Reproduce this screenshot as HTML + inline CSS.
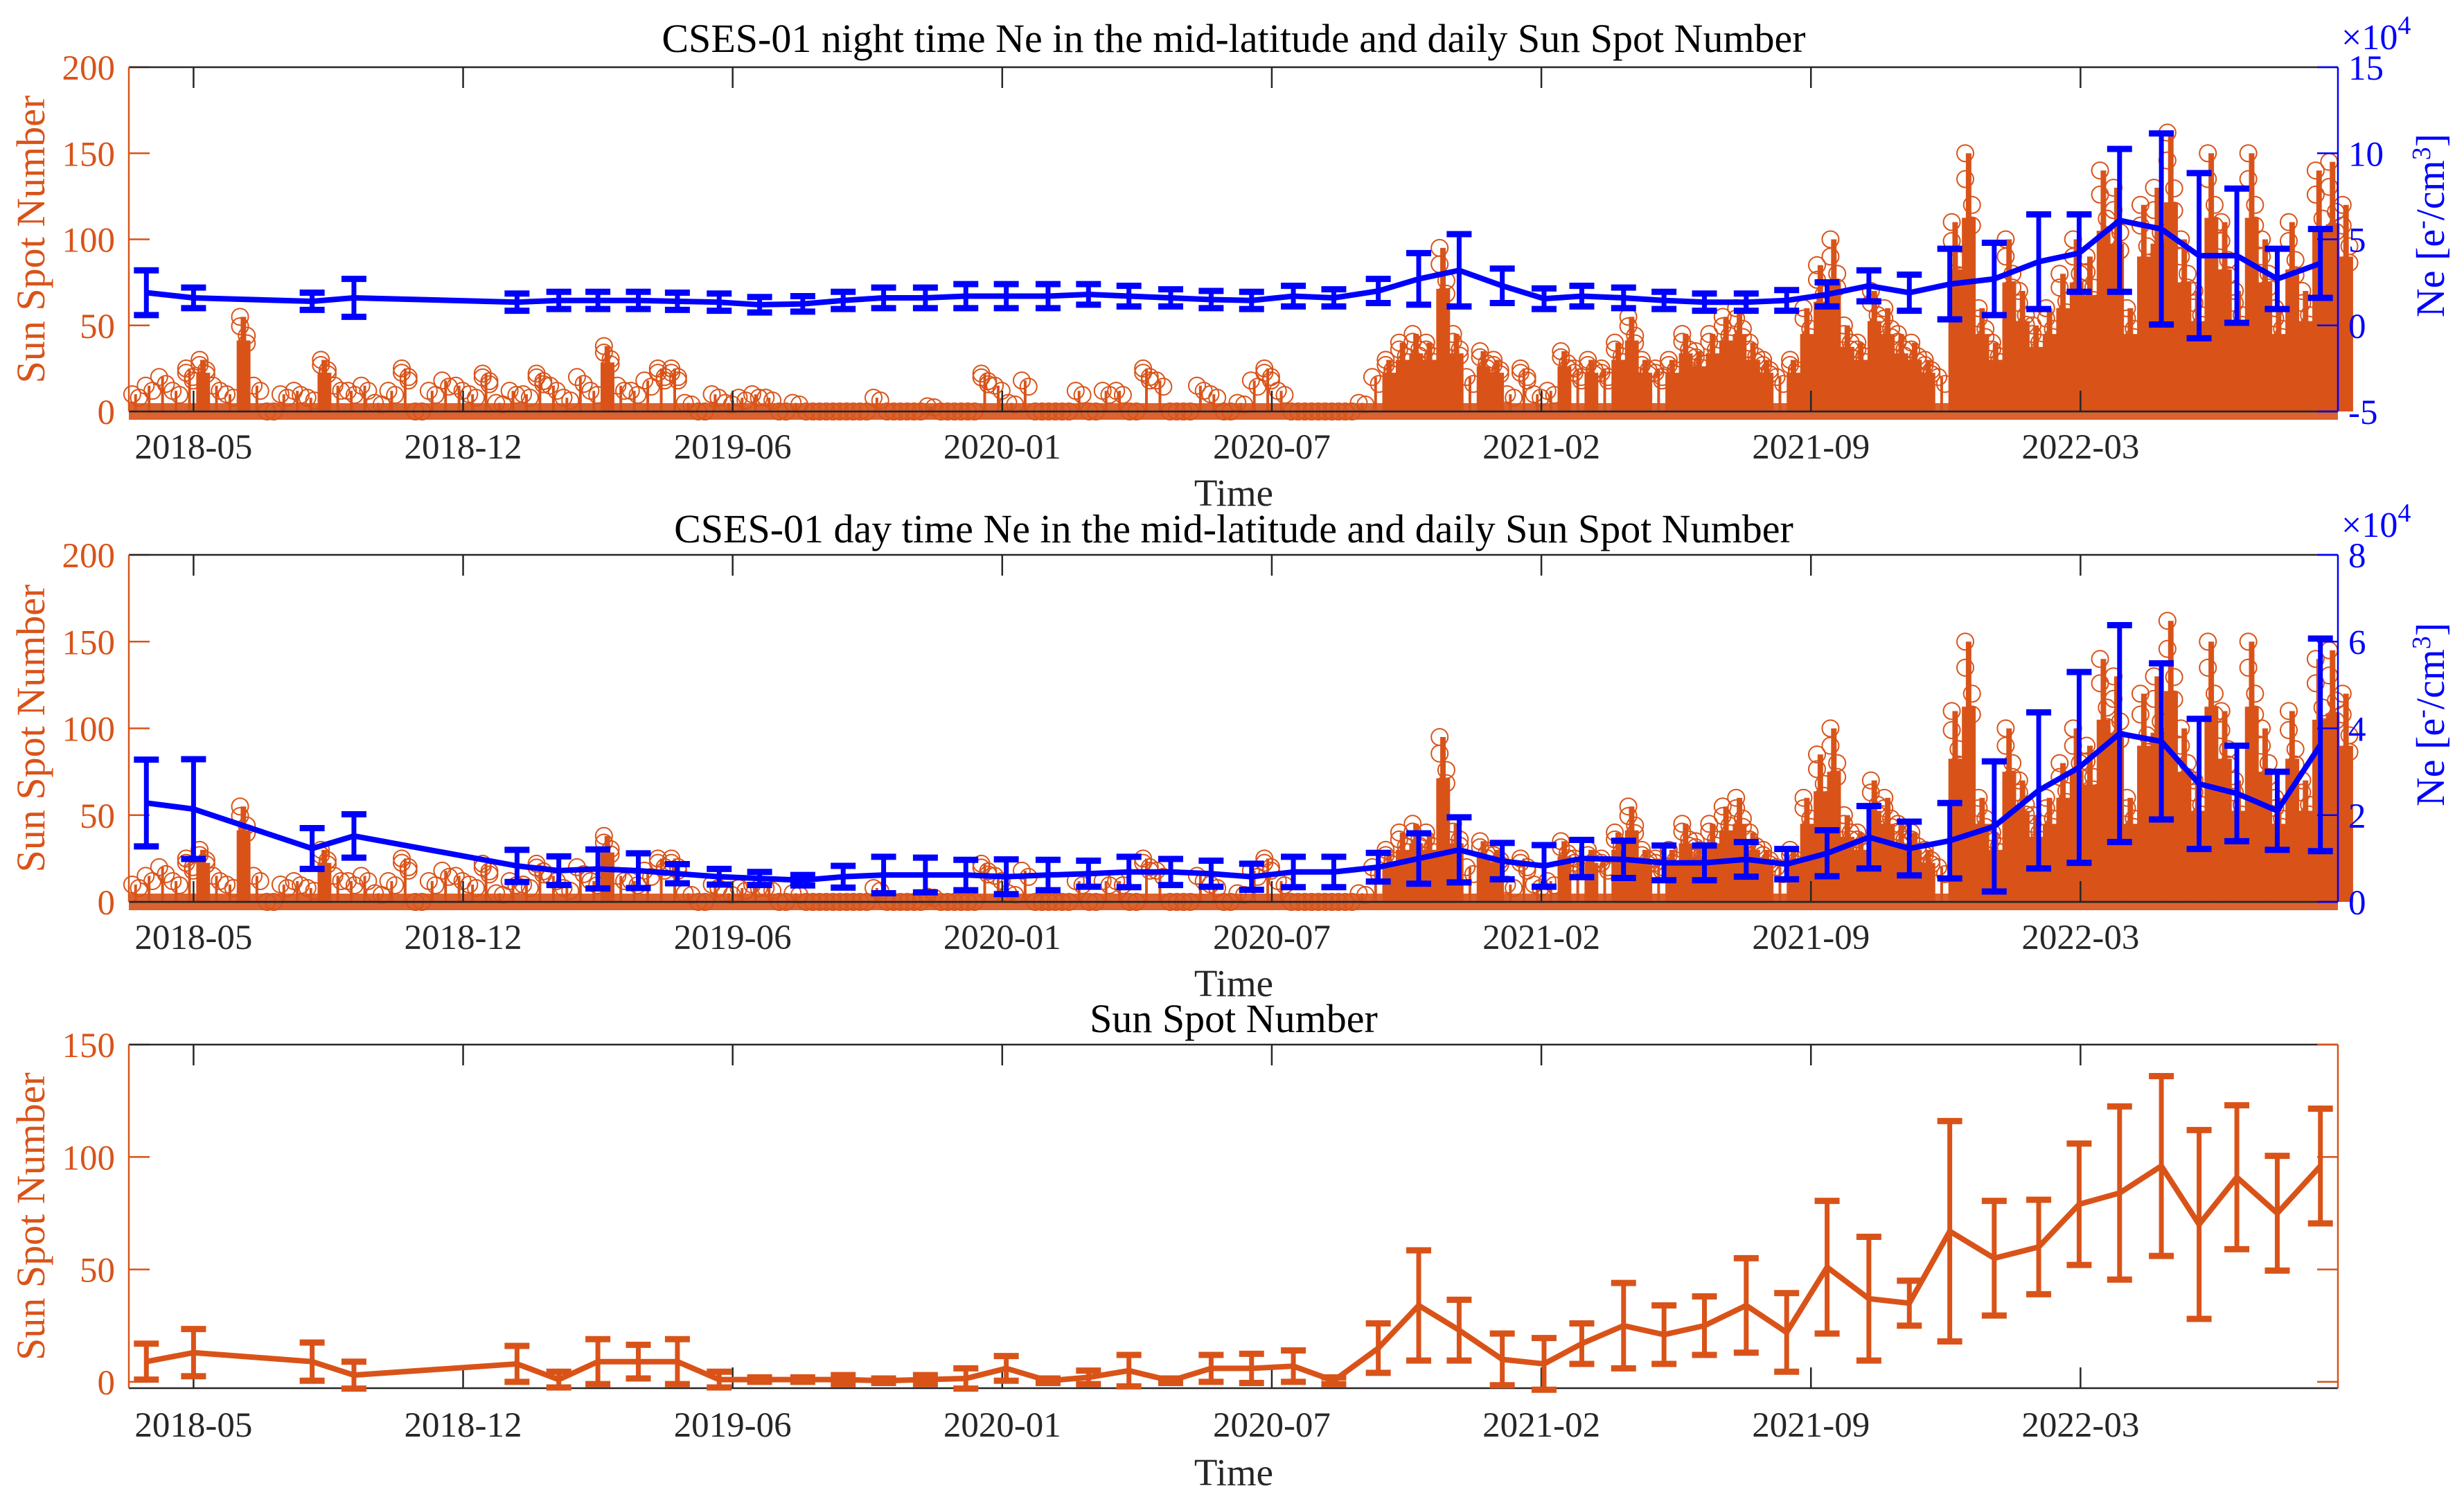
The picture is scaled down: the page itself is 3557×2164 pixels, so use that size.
<!DOCTYPE html>
<html><head><meta charset="utf-8">
<style>
html,body{margin:0;padding:0;background:#fff;}
svg{display:block;font-family:"Liberation Serif",serif;}
</style></head>
<body>
<svg id="chart" width="3557" height="2164" viewBox="0 0 3557 2164" xmlns="http://www.w3.org/2000/svg"></svg>
<script>
// ---- data ----
const tickDays = [0,200,400,600,800,1000,1200,1400];
const tickLabels = ["2018-05","2018-12","2019-06","2020-01","2020-07","2021-02","2021-09","2022-03"];
const monthDays = [-35,0,88,119,240,271,300,330,359,390,420,452,482,512,543,573,603,634,664,694,725,755,785,816,846,879,909,939,971,1002,1030,1061,1091,1121,1152,1182,1212,1243,1273,1303,1336,1369,1399,1429,1460,1488,1516,1546,1578];
const neNight = [1.9,1.6,1.4,1.6,1.35,1.45,1.45,1.45,1.4,1.35,1.2,1.25,1.45,1.6,1.6,1.7,1.7,1.7,1.8,1.7,1.6,1.5,1.45,1.7,1.6,2.0,2.7,3.2,2.3,1.55,1.7,1.6,1.45,1.35,1.35,1.45,1.8,2.3,1.9,2.4,2.7,3.7,4.2,6.1,5.6,4.05,4.05,2.7,3.6];
const neNightErr = [1.3,0.6,0.5,1.1,0.5,0.5,0.5,0.5,0.5,0.5,0.45,0.45,0.5,0.6,0.6,0.7,0.7,0.7,0.6,0.6,0.5,0.5,0.5,0.6,0.5,0.7,1.5,2.1,1.0,0.6,0.6,0.6,0.5,0.5,0.5,0.6,0.7,0.9,1.05,2.05,2.1,2.75,2.25,4.15,5.55,4.8,3.9,1.75,2.0];
const neDay = [2.28,2.14,1.23,1.52,0.83,0.72,0.76,0.72,0.65,0.58,0.54,0.5,0.58,0.62,0.62,0.62,0.58,0.62,0.65,0.69,0.69,0.65,0.58,0.69,0.69,0.8,1.0,1.2,0.94,0.83,1.0,0.98,0.9,0.9,0.98,0.87,1.12,1.49,1.23,1.41,1.74,2.57,3.1,3.88,3.7,2.72,2.5,2.1,3.62];
const neDayErr = [1.0,1.15,0.47,0.5,0.37,0.33,0.45,0.4,0.22,0.18,0.15,0.12,0.25,0.42,0.4,0.35,0.4,0.35,0.3,0.35,0.3,0.3,0.3,0.35,0.35,0.33,0.58,0.75,0.42,0.48,0.43,0.43,0.4,0.4,0.4,0.35,0.53,0.72,0.62,0.87,1.5,1.8,2.2,2.5,1.8,1.5,1.1,0.9,2.45];
const ssnMonthly = [9,13,9,3,8,1,9,9,9,1,1,1,1,0.5,1,1.5,6,0.5,2,5,0.5,6,6,7,0.5,15,34,23,10,8,17,25,21,25,34,22,51,37,35,67,55,60,79,84,96,70,91,75,96];
const ssnMonthlyErr = [8,10.5,8.5,6,8,3.5,10,7.5,10,3.5,1,1,2,1,2,4.5,5.5,1,3,7,1,6,6.5,7,1.5,11,24.5,13.5,11.5,11.5,9,19,13,13,21,17.5,29.5,27.5,10,49,25.5,21,27,38.5,40,42,32,25.5,25.5];
const ssnDailyStart = -48;
const ssnDailyStep = 10;
const ssnDaily = [10,15,20,12,25,30,15,10,55,15,0,10,12,8,30,15,12,15,5,12,25,0,12,18,15,10,22,5,12,10,22,15,8,20,12,38,15,12,18,25,25,5,0,10,5,8,10,8,0,5,0,0,0,0,0,8,0,0,0,3,0,0,0,22,15,5,18,0,0,0,12,0,12,12,0,25,18,0,0,15,10,0,5,18,25,12,0,0,0,0,0,5,20,30,40,45,40,95,45,20,35,30,10,25,10,12,35,25,30,25,40,55,30,25,30,45,35,45,55,60,40,30,20,30,60,85,100,50,40,70,60,45,40,30,20,110,150,60,40,100,70,50,60,80,100,90,140,130,60,120,130,162,100,70,150,110,70,150,100,60,110,70,140,145,120];

const ORANGE="#D95319", BLUE="#0000FF", NS="http://www.w3.org/2000/svg";
const svg=document.getElementById('chart');
const X0=186,X1=3375,D0=-48,D1=1591;
function xs(d){return X0+(d-D0)/(D1-D0)*(X1-X0);}
function mk(tag,attrs,parent){const e=document.createElementNS(NS,tag);for(const k in attrs)e.setAttribute(k,attrs[k]);(parent||svg).appendChild(e);return e;}
function txt(s,x,y,attrs,parent){const e=mk('text',Object.assign({x:x,y:y},attrs),parent);e.textContent=s;return e;}

function panel(name,top,bot,leftMin,leftMax,title,titleY){
  const g=mk('g',{});
  
  
  const ly=v=>bot-(v-leftMin)/(leftMax-leftMin)*(bot-top);
  const t=txt(title,1781,titleY,{'font-size':58,'text-anchor':'middle','fill':'#000'},g);
  
  
  return {g,ly,top,bot};
}
function frame(p,leftTicks,leftColor,rightColor,tickY,timeY){
  const g=p.g;
  tickDays.forEach((d,i)=>{
    const x=xs(d);
    mk('line',{x1:x,x2:x,y1:p.bot,y2:p.bot-30,stroke:'#262626','stroke-width':2.5},g);
    mk('line',{x1:x,x2:x,y1:p.top,y2:p.top+30,stroke:'#262626','stroke-width':2.5},g);
    const l=txt(tickLabels[i],x,tickY,{'font-size':51,'text-anchor':'middle','fill':'#262626'},g);
    
    
  });
  const tl=txt('Time',1781,timeY,{'font-size':55,'text-anchor':'middle','fill':'#262626'},g);
  
  
  leftTicks.forEach(v=>{
    const y=p.ly(v);
    mk('line',{x1:X0,x2:X0+30,y1:y,y2:y,stroke:leftColor,'stroke-width':2.5},g);
    const l=txt(String(v),166,y+18,{'font-size':51,'text-anchor':'end','fill':leftColor},g);
    
    
  });
  mk('line',{x1:X0,x2:X1,y1:p.top,y2:p.top,stroke:'#262626','stroke-width':2.5},g);
  mk('line',{x1:X0,x2:X1,y1:p.bot,y2:p.bot,stroke:'#262626','stroke-width':2.5},g);
  mk('line',{x1:X0,x2:X0,y1:p.top,y2:p.bot,stroke:leftColor,'stroke-width':2.5},g);
  mk('line',{x1:X1,x2:X1,y1:p.top,y2:p.bot,stroke:rightColor,'stroke-width':2.5},g);
  const yl=txt('Sun Spot Number',0,0,{'font-size':58,'text-anchor':'middle','fill':leftColor,transform:`translate(64,${(p.top+p.bot)/2}) rotate(-90)`},g);
  
  
}
function stems(p,ly){
  const g=mk('g',{},p.g);
  
  
  const bw=xs(ssnDailyStep)-xs(0);
  ssnDaily.forEach((v,i)=>{
    const x=xs(ssnDailyStart+i*ssnDailyStep+5);
    if(v>28){
      mk('rect',{x:x-bw/2,y:ly(v*0.75),width:bw+0.5,height:ly(0)-ly(v*0.75),fill:ORANGE},g);
      mk('line',{x1:x,x2:x,y1:ly(0),y2:ly(v),stroke:ORANGE,'stroke-width':8},g);
    } else if(v>0) mk('line',{x1:x,x2:x,y1:ly(0),y2:ly(v),stroke:ORANGE,'stroke-width':4},g);
  });
  ssnDaily.forEach((v,i)=>{
    for(let k=0;k<2;k++){
      const x=xs(ssnDailyStart+i*ssnDailyStep+2.5+k*5);
      const vv=k===0?v:v*0.8;
      mk('circle',{cx:x,cy:ly(vv),r:12,fill:'none',stroke:ORANGE,'stroke-width':2},g);
      if(v>20) mk('circle',{cx:x,cy:ly(vv*0.9),r:12,fill:'none',stroke:ORANGE,'stroke-width':2},g);
    }
  });
  mk('line',{x1:X0,x2:X1,y1:ly(0),y2:ly(0),stroke:ORANGE,'stroke-width':24,opacity:0.9},g);
  mk('line',{x1:X0,x2:X1,y1:ly(0),y2:ly(0),stroke:'#262626','stroke-width':2.5},g);
}
function errSeries(p,yfn,vals,errs,color,name,cap){
  const g=mk('g',{},p.g);
  
  
  const pts=vals.map((v,i)=>xs(monthDays[i])+','+yfn(v)).join(' ');
  mk('polyline',{points:pts,fill:'none',stroke:color,'stroke-width':8,'stroke-linejoin':'round'},g);
  vals.forEach((v,i)=>{
    const x=xs(monthDays[i]),y1=yfn(v-errs[i]),y2=yfn(v+errs[i]);
    mk('line',{x1:x,x2:x,y1:y1,y2:y2,stroke:color,'stroke-width':7},g);
    mk('line',{x1:x-cap,x2:x+cap,y1:y1,y2:y1,stroke:color,'stroke-width':9},g);
    mk('line',{x1:x-cap,x2:x+cap,y1:y2,y2:y2,stroke:color,'stroke-width':9},g);
  });
}
function rightAxis(p,rmin,rmax,ticks){
  const ry=v=>p.bot-(v-rmin)/(rmax-rmin)*(p.bot-p.top);
  ticks.forEach(v=>{
    const y=ry(v);
    mk('line',{x1:X1-30,x2:X1,y1:y,y2:y,stroke:BLUE,'stroke-width':2.5},p.g);
    const l=txt(String(v),3390,y+18,{'font-size':51,'fill':BLUE},p.g);
    
    
  });
  const e=mk('text',{x:3380,y:p.top-26,'font-size':52,'fill':BLUE},p.g);
  e.innerHTML='×10<tspan dy="-22" font-size="38">4</tspan>';
  
  
  const yl=mk('text',{x:0,y:0,'font-size':58,'text-anchor':'middle','fill':BLUE,transform:`translate(3528,${(p.top+p.bot)/2-20}) rotate(-90)`},p.g);
  yl.innerHTML='Ne [e<tspan dy="-20" font-size="38">-</tspan><tspan dy="20">/cm</tspan><tspan dy="-20" font-size="38">3</tspan><tspan dy="20">]</tspan>';
  
  
  return ry;
}

const p1=panel('night-panel',97,594,0,200,'CSES-01 night time Ne in the mid-latitude and daily Sun Spot Number',75);
stems(p1,p1.ly);
frame(p1,[0,50,100,150,200],ORANGE,BLUE,662,730);
const r1=rightAxis(p1,-5,15,[-5,0,5,10,15]);
errSeries(p1,r1,neNight,neNightErr,BLUE,'night-ne-errorbar-line',18);

const p2=panel('day-panel',801,1302,0,200,'CSES-01 day time Ne in the mid-latitude and daily Sun Spot Number',783);
stems(p2,p2.ly);
frame(p2,[0,50,100,150,200],ORANGE,BLUE,1370,1438);
const r2=rightAxis(p2,0,8,[0,2,4,6,8]);
errSeries(p2,r2,neDay,neDayErr,BLUE,'day-ne-errorbar-line',18);

const p3=panel('ssn-panel',1508,2004,-2.8,150,'Sun Spot Number',1490);
frame(p3,[0,50,100,150],ORANGE,ORANGE,2074,2144);
[0,50,100,150].forEach(v=>mk('line',{x1:X1-30,x2:X1,y1:p3.ly(v),y2:p3.ly(v),stroke:ORANGE,'stroke-width':2.5},p3.g));
errSeries(p3,p3.ly,ssnMonthly,ssnMonthlyErr,ORANGE,'monthly-ssn-errorbar-line',18);
</script>
</body></html>
